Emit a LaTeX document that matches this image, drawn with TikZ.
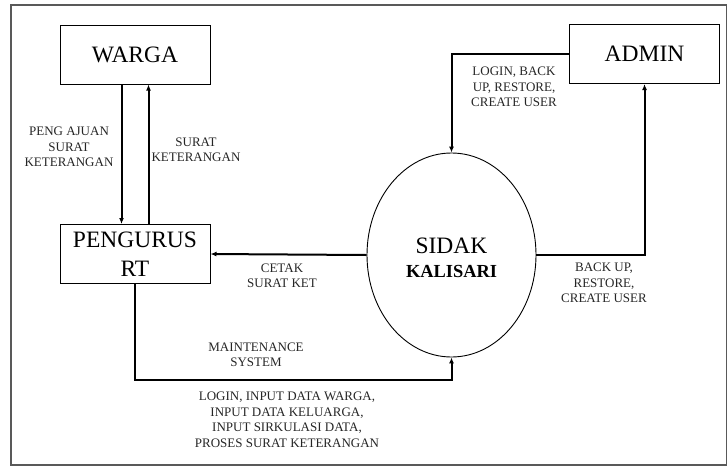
\documentclass[tikz,border=0pt]{standalone}
\usepackage{fontspec}
\setmainfont{Liberation Serif}
\usetikzlibrary{arrows.meta, shapes.geometric}
\tikzset{ ent/.style = { rectangle
                       , draw
                       , line width   = 1pt
                       , inner sep    = 0pt
                       , minimum width  = 150pt
                       , minimum height = 59pt
                       , align        = center
                       , font         = \fontsize{23.5}{27}\selectfont
                       },
          proc/.style = { ellipse
                        , draw
                        , line width   = 0.9pt
                        , inner sep    = 0pt
                        , minimum width  = 169pt
                        , minimum height = 204pt
                        , align        = center
                        },
          flow/.style = { line width = 2pt
                        , -{Latex[length=6pt, width=5pt]}
                        },
          lbl/.style = { align = center
                       , text = black!85
                       , inner sep = 0pt
                       , font = \fontsize{13}{15.5}\selectfont
                       }
        }
\begin{document}
\begin{tikzpicture}[x=1pt, y=-1pt]
          \useasboundingbox (0,0) rectangle (727,466);
          \draw[black!65, line width=1.2pt] (11,5) rectangle (726.4,465);
          \node[ent] (warga) at (135,54.5) {WARGA};
          \node[ent, font=\fontsize{23.5}{29}\selectfont] (pengurus) at (135,254) {PENGURUS\\RT};
          \node[ent] (admin) at (644.5,54) {ADMIN};
          \node[proc] (sidak) at (451.5,255) {};
          \node (sidaktxt) at (451.5,246) {\fontsize{23.5}{27}\selectfont SIDAK};
          \node (kalisari) at (451.5,271) {\fontsize{18.4}{22}\selectfont\bfseries KALISARI};
          \draw[flow] ([xshift=-13.5pt]warga.south) -- ([xshift=-13.5pt]pengurus.north);
          \draw[flow] ([xshift=13.5pt]pengurus.north) -- ([xshift=13.5pt]warga.south);
          \draw[flow] (admin.west) -| (sidak.north);
          \draw[flow] (sidak.east) -| (admin.south);
          \draw[flow] (sidak.west) -- (pengurus.east);
          \draw[flow] (pengurus.south) -- ++(0,96) -| (sidak.south);
          \foreach \n/\x/\y/\t in {
              ajuan/69/147/{PENG AJUAN\\SURAT\\KETERANGAN},
              surat/196/150/{SURAT\\KETERANGAN},
              login/514/87/{LOGIN, BACK\\UP, RESTORE,\\CREATE USER},
              cetak/282/276/{CETAK\\SURAT KET},
              maint/256/355/{MAINTENANCE\\SYSTEM},
              input/287/420/{LOGIN, INPUT DATA WARGA,\\INPUT DATA KELUARGA,\\INPUT SIRKULASI DATA,\\PROSES SURAT KETERANGAN},
              backup/604/283/{BACK UP,\\RESTORE,\\CREATE USER}} {
            \node[lbl] (\n) at (\x,\y) {\t};
          }
        \end{tikzpicture}
\end{document}
